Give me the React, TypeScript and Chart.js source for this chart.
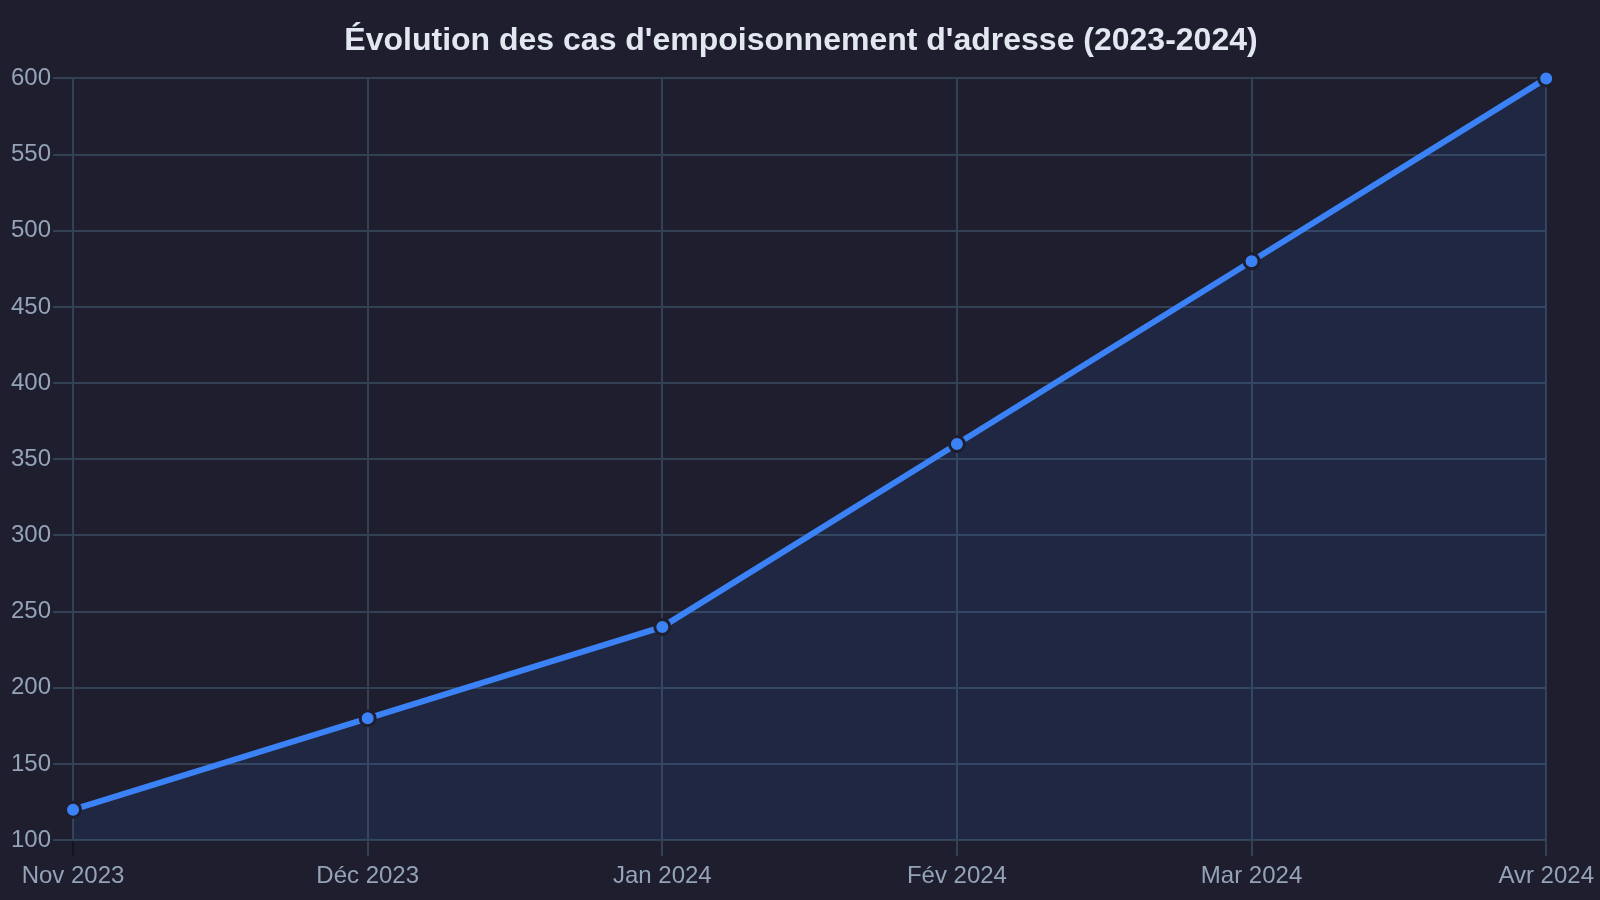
import React, { useEffect, useRef } from "react";
import Chart from "chart.js/auto";

const months = ["Nov 2023", "Déc 2023", "Jan 2024", "Fév 2024", "Mar 2024", "Avr 2024"];
const cases = [120, 180, 240, 360, 480, 600];
const yTicks = [100, 150, 200, 250, 300, 350, 400, 450, 500, 550, 600];

const BG = "#1e1e2e";
const GRID = "#334155";
const TICK = "#94a3b8";
const FONT = "'Liberation Sans', Arial, sans-serif";

const App: React.FC = () => {
  const chartRef = useRef<HTMLCanvasElement | null>(null);
  const chartInstance = useRef<Chart<"line"> | null>(null);

  useEffect(() => {
    document.body.style.margin = "0";
    document.body.style.background = BG;
    if (!chartRef.current) return;
    if (chartInstance.current) chartInstance.current.destroy();

    const ctx = chartRef.current.getContext("2d");
    if (!ctx) return;

    chartInstance.current = new Chart(ctx, {
      type: "line",
      data: {
        labels: months,
        datasets: [
          {
            label: "Cas",
            data: cases,
            borderColor: "#3b82f6",
            backgroundColor: "rgba(59, 130, 246, 0.1)",
            borderWidth: 6,
            fill: true,
            tension: 0,
            clip: false,
            pointRadius: 7.5,
            pointBorderWidth: 3,
            pointBackgroundColor: "#3b82f6",
            pointBorderColor: BG,
          },
        ],
      },
      options: {
        animation: false,
        responsive: true,
        maintainAspectRatio: false,
        layout: { padding: { left: 9, right: 7, top: 0, bottom: 3 } },
        plugins: {
          legend: { display: false },
          tooltip: { enabled: false },
          title: {
            display: true,
            text: "Évolution des cas d'empoisonnement d'adresse (2023-2024)",
            color: "#e2e8f0",
            font: { family: FONT, size: 32, weight: "bold" },
            padding: { top: 22, bottom: 18 },
          },
        },
        scales: {
          x: {
            grid: {
              color: GRID,
              lineWidth: 2,
              tickLength: 16,
              tickColor: (c: any) => (c.index === 0 ? "rgba(0,0,0,0.3)" : GRID),
            },
            border: { color: GRID, width: 2 },
            ticks: { color: TICK, font: { family: FONT, size: 24 }, padding: 6, maxRotation: 0 },
          },
          y: {
            min: yTicks[0],
            max: yTicks[yTicks.length - 1],
            afterBuildTicks: (axis: any) => {
              axis.ticks = yTicks.map((v) => ({ value: v }));
            },
            grid: { color: GRID, lineWidth: 2, tickLength: 20 },
            border: { color: GRID, width: 2 },
            ticks: { color: TICK, font: { family: FONT, size: 24 }, padding: 2 },
          },
        },
      },
    });

    return () => {
      if (chartInstance.current) {
        chartInstance.current.destroy();
        chartInstance.current = null;
      }
    };
  }, []);

  return (
    <div style={{ width: 1600, height: 900, position: "relative", background: BG }}>
      <canvas ref={chartRef} />
    </div>
  );
};

export default App;
